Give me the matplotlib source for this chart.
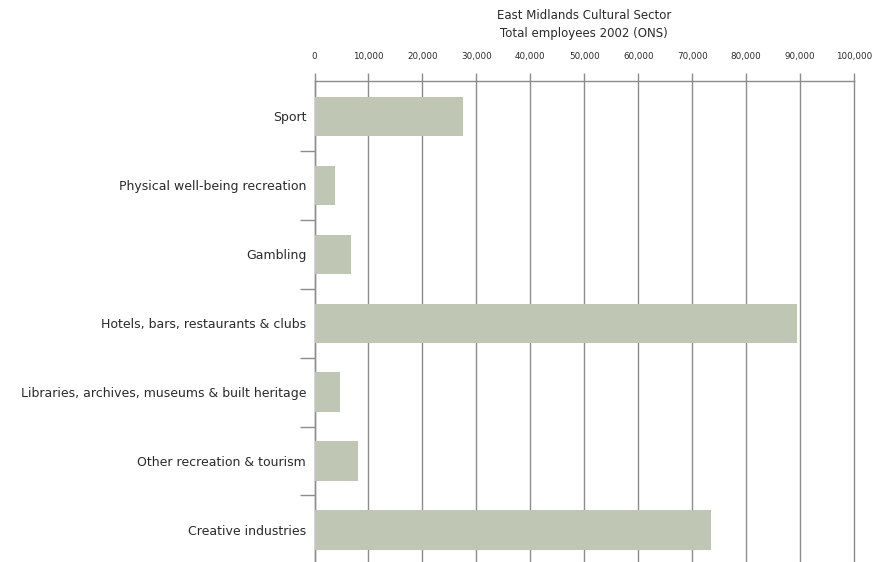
import matplotlib
matplotlib.use("Agg")
import matplotlib.pyplot as plt
from matplotlib.ticker import FuncFormatter, FixedLocator

# East Midlands cultural sector employment, 2002 (ONS)
categories = [
    "Sport",
    "Physical well-being recreation",
    "Gambling",
    "Hotels, bars, restaurants & clubs",
    "Libraries, archives, museums & built heritage",
    "Other recreation & tourism",
    "Creative industries",
]
employees = [27500, 3800, 6800, 89400, 4700, 8100, 73400]
x_ticks = list(range(0, 100001, 10000))

BAR_COLOR = "#bfc6b4"
GRID_COLOR = "#8c8c8c"
TEXT_COLOR = "#2a2a2a"

fig = plt.figure(figsize=(8.73, 5.62), dpi=100)
ax = fig.add_axes([0.3603, -0.0018, 0.6180, 0.8585])

y = list(range(len(categories)))
ax.barh(y, employees, height=0.57, color=BAR_COLOR, zorder=3)

ax.set_xlim(0, 100000)
ax.set_ylim(len(categories) - 0.52, -0.52)

# value axis on top
ax.xaxis.tick_top()
ax.set_xticks(x_ticks)
ax.xaxis.set_major_formatter(FuncFormatter(lambda v, p: f"{int(v):,}"))
ax.tick_params(axis="x", which="major", length=6, width=1, color=GRID_COLOR,
               labelsize=6.3, labelcolor=TEXT_COLOR, pad=8)
ax.grid(axis="x", color=GRID_COLOR, linewidth=1, zorder=1)
for line in ax.xaxis.get_gridlines():
    line.set_clip_on(False)

# category labels, with separator ticks between rows
ax.set_yticks(y)
ax.set_yticklabels(categories, fontsize=9, color=TEXT_COLOR)
ax.tick_params(axis="y", which="major", length=0, pad=6)
ax.yaxis.set_minor_locator(FixedLocator([i + 0.5 for i in range(len(categories) - 1)]))
ax.tick_params(axis="y", which="minor", length=11, width=1, color=GRID_COLOR)

for side in ("bottom", "right"):
    ax.spines[side].set_visible(False)
for side in ("top", "left"):
    ax.spines[side].set_color(GRID_COLOR)
    ax.spines[side].set_linewidth(1)

fig.text(0.669, 0.972, "East Midlands Cultural Sector", ha="center", va="center",
         fontsize=8.5, color=TEXT_COLOR)
fig.text(0.669, 0.941, "Total employees 2002 (ONS)", ha="center", va="center",
         fontsize=8.5, color=TEXT_COLOR)

fig.savefig("out.png", dpi=100)
